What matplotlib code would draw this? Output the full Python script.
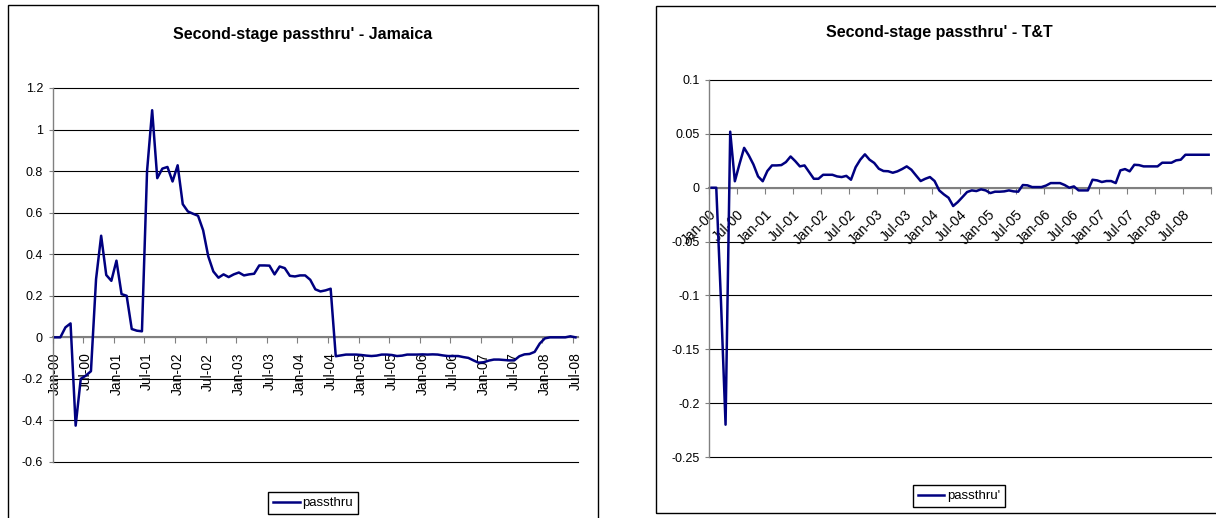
import matplotlib
matplotlib.use('Agg')
import matplotlib.pyplot as plt
import matplotlib.patches as patches
import numpy as np

plt.rcParams['font.family'] = ['Liberation Sans', 'DejaVu Sans']

W, H = 1216, 518
navy = '#000080'
axis_grey = '#808080'

# half-year labels shared by both panels
tick_labels = ['Jan-00', 'Jul-00', 'Jan-01', 'Jul-01', 'Jan-02', 'Jul-02',
               'Jan-03', 'Jul-03', 'Jan-04', 'Jul-04', 'Jan-05', 'Jul-05',
               'Jan-06', 'Jul-06', 'Jan-07', 'Jul-07', 'Jan-08', 'Jul-08']

# Jamaica: monthly, Jan-00 .. Jul-08
jamaica = [
    0.0, 0.0, 0.048, 0.067, -0.425, -0.20, -0.184, -0.163, 0.28, 0.489,
    0.30, 0.272, 0.369, 0.208, 0.20, 0.04, 0.032, 0.029, 0.80, 1.093,
    0.766, 0.812, 0.82, 0.75, 0.828, 0.641, 0.606, 0.595, 0.585, 0.515,
    0.39, 0.317, 0.287, 0.303, 0.29, 0.303, 0.312, 0.298, 0.303, 0.306,
    0.346, 0.346, 0.345, 0.303, 0.341, 0.333, 0.296, 0.293, 0.298, 0.298,
    0.277, 0.231, 0.221, 0.226, 0.234, -0.091, -0.087, -0.083, -0.083, -0.083,
    -0.085, -0.088, -0.09, -0.088, -0.083, -0.083, -0.085, -0.09, -0.088, -0.083,
    -0.083, -0.083, -0.082, -0.083, -0.082, -0.083, -0.087, -0.09, -0.09, -0.09,
    -0.095, -0.099, -0.111, -0.122, -0.12, -0.112, -0.107, -0.107, -0.109, -0.111,
    -0.111, -0.091, -0.082, -0.08, -0.07, -0.03, -0.005, 0.0, 0.0, 0.0,
    0.0, 0.005, 0.0,
]
jamaica_yticks = [-0.6, -0.4, -0.2, 0, 0.2, 0.4, 0.6, 0.8, 1, 1.2]

# Trinidad & Tobago: monthly, Jan-00 .. Dec-08
tandt = [
    0.0, 0.0, -0.104, -0.22, 0.052, 0.006, 0.022, 0.037, 0.030, 0.0216,
    0.0105, 0.006, 0.0155, 0.0207, 0.0207, 0.021, 0.0238, 0.029, 0.0247, 0.0198,
    0.0207, 0.0145, 0.0083, 0.0083, 0.012, 0.012, 0.012, 0.0105, 0.0099, 0.011,
    0.0074, 0.019, 0.026, 0.031, 0.026, 0.023, 0.0176, 0.0155, 0.0153, 0.0139,
    0.0152, 0.0173, 0.0198, 0.0167, 0.0114, 0.0062, 0.0083, 0.0099, 0.0062, -0.0025,
    -0.0062, -0.0093, -0.017, -0.0133, -0.0087, -0.004, -0.0025, -0.0031, -0.0015, -0.0025,
    -0.005, -0.0037, -0.0037, -0.0034, -0.0025, -0.0034, -0.0037, 0.0025, 0.0022, 0.0006,
    0.0006, 0.0006, 0.002, 0.0043, 0.0043, 0.0043, 0.0025, 0.0, 0.0012, -0.0025,
    -0.0025, -0.0025, 0.0074, 0.0068, 0.0053, 0.0062, 0.0062, 0.0043, 0.0161, 0.0173,
    0.0152, 0.0213, 0.021, 0.0198, 0.0198, 0.0198, 0.0198, 0.0232, 0.0232, 0.0232,
    0.0254, 0.026, 0.0306, 0.0306, 0.0306, 0.0306, 0.0306, 0.0306,
]
tandt_yticks = [-0.25, -0.2, -0.15, -0.1, -0.05, 0, 0.05, 0.1]


def fx(px):
    return px / W


def fy(py):
    return 1 - py / H


def style_axes(ax, yticks):
    ax.set_yticks(yticks)
    ax.set_yticklabels([f'{v:g}' for v in yticks], fontsize=9)
    ax.yaxis.grid(True, color='black', linewidth=0.8)
    for gl in ax.get_ygridlines():
        gl.set_clip_on(False)
    ax.set_axisbelow(True)
    for s in ('top', 'right'):
        ax.spines[s].set_visible(False)
    ax.spines['left'].set_color(axis_grey)
    ax.spines['left'].set_linewidth(1.0)
    ax.spines['bottom'].set_position(('data', 0))
    ax.spines['bottom'].set_color(axis_grey)
    ax.spines['bottom'].set_linewidth(1.5)
    ax.tick_params(axis='y', length=3, width=0.8, color=axis_grey, pad=4)
    ax.set_facecolor('none')


fig = plt.figure(figsize=(W / 100, H / 100), dpi=100)

# chart frames (both run past the edge of the image)
fig.add_artist(patches.Rectangle((fx(8), fy(540)), fx(590), (540 - 5) / H,
                                 transform=fig.transFigure, fill=False,
                                 edgecolor='black', linewidth=1.0))
fig.add_artist(patches.Rectangle((fx(656), fy(513)), fx(600), (513 - 6) / H,
                                 transform=fig.transFigure, fill=False,
                                 edgecolor='black', linewidth=1.0))

# ---- Jamaica ----
n1 = len(jamaica)
ax1 = fig.add_axes([fx(52.7), fy(462), fx(578 - 52.7), (462 - 88) / H])
ax1.plot(np.arange(n1), jamaica, color=navy, linewidth=1.8, zorder=3,
         label='passthru')
ax1.set_xlim(-0.5, n1 - 0.5)
ax1.set_ylim(-0.6, 1.2)
style_axes(ax1, jamaica_yticks)
ax1.set_xticks(np.arange(len(tick_labels)) * 6)
ax1.set_xticklabels(tick_labels, rotation=90, fontsize=10)
ax1.set_xticks(np.arange(len(tick_labels)) * 6 - 0.5, minor=True)
ax1.tick_params(axis='x', which='major', length=0, pad=11)
ax1.tick_params(axis='x', which='minor', length=4, width=0.8, color=axis_grey)
fig.text(fx(303), fy(34), "Second-stage passthru' - Jamaica", ha='center',
         va='center', fontsize=11.5, fontweight='bold')
leg1 = ax1.legend(loc='center', bbox_to_anchor=(fx(313), fy(503)),
                  bbox_transform=fig.transFigure, fontsize=9.5, frameon=True,
                  fancybox=False, edgecolor='black', framealpha=1,
                  handlelength=2.0, handletextpad=0.2, borderpad=0.4)
leg1.get_frame().set_linewidth(1.0)

# ---- T&T ----
n2 = len(tandt)
ax2 = fig.add_axes([fx(709.3), fy(457), fx(4.645 * n2), (457 - 80) / H])
ax2.plot(np.arange(n2), tandt, color=navy, linewidth=1.8, zorder=3,
         label="passthru'")
ax2.set_xlim(-0.5, n2 - 0.5)
ax2.set_ylim(-0.25, 0.1)
style_axes(ax2, tandt_yticks)
ax2.set_xticks(np.arange(len(tick_labels)) * 6 - 0.5)
ax2.set_xticklabels(tick_labels, rotation=45, ha='right',
                    rotation_mode='anchor', fontsize=10)
ax2.set_xticks(np.arange(len(tick_labels) + 1) * 6 - 0.5, minor=True)
ax2.tick_params(axis='x', which='major', length=4, width=0.8,
                color=axis_grey, pad=10)
ax2.tick_params(axis='x', which='minor', length=4, width=0.8, color=axis_grey)
fig.text(fx(939), fy(32), "Second-stage passthru' - T&T", ha='center',
         va='center', fontsize=11.5, fontweight='bold')
leg2 = ax2.legend(loc='center', bbox_to_anchor=(fx(959), fy(496)),
                  bbox_transform=fig.transFigure, fontsize=9.5, frameon=True,
                  fancybox=False, edgecolor='black', framealpha=1,
                  handlelength=2.0, handletextpad=0.2, borderpad=0.4)
leg2.get_frame().set_linewidth(1.0)

fig.savefig('out.png', dpi=100)
